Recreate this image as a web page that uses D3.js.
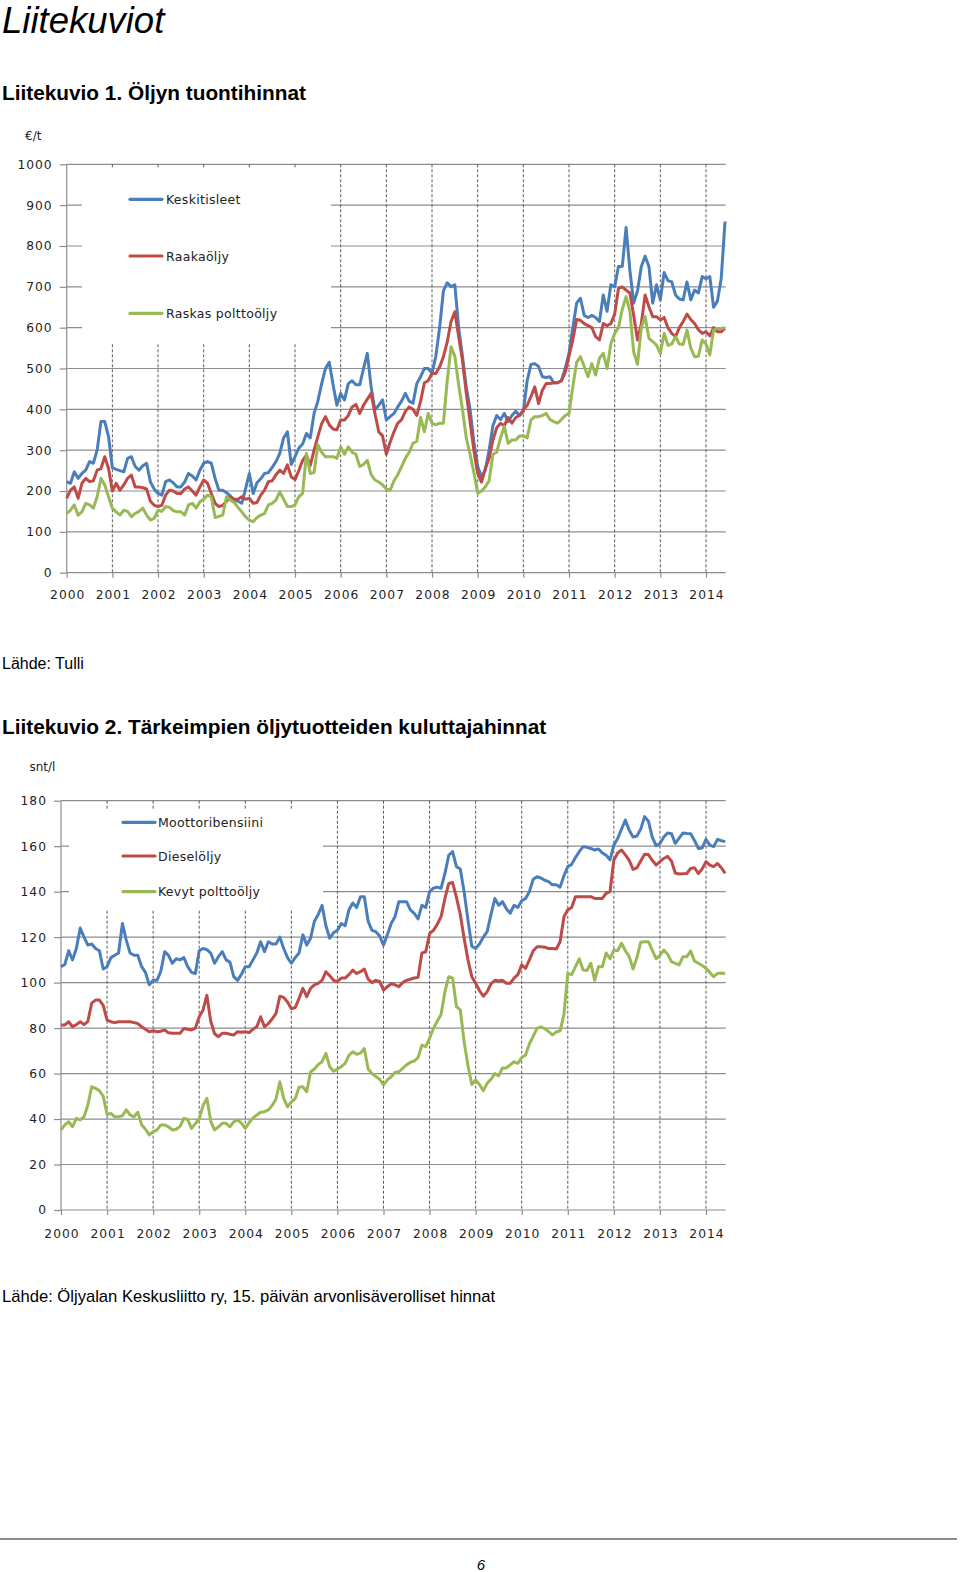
<!DOCTYPE html>
<html><head><meta charset="utf-8">
<script src="https://cdn.jsdelivr.net/npm/d3@7"></script>
<style>
html,body{margin:0;padding:0;background:#fff;}
svg{display:block;}
</style></head>
<body>
<svg id="page" width="960" height="1572"></svg>
<script>
// ---------- DATA ----------
const years = [2000,2001,2002,2003,2004,2005,2006,2007,2008,2009,2010,2011,2012,2013,2014];
const startYear = 2000;

// Chart 1: Öljyn tuontihinnat, €/t, monthly Jan 2000 - Jun 2014
const c1Ticks = [0,100,200,300,400,500,600,700,800,900,1000];
const c1Names = ["Keskitisleet","Raakaöljy","Raskas polttoöljy"];
const keskitisleet = [
223,219,247,231,243,251,272,268,300,370,370,333,
257,253,250,247,280,284,260,251,262,268,222,205,
194,190,223,227,220,210,210,222,243,237,227,251,
268,272,268,231,202,202,196,188,178,175,170,205,
243,194,220,230,243,245,258,272,292,330,345,265,
284,305,315,341,330,390,420,463,500,515,460,410,
439,423,463,470,460,460,500,537,455,398,410,423,
374,382,390,406,420,439,420,415,463,480,500,500,
488,530,600,690,710,700,705,600,530,455,400,320,
260,235,251,300,360,385,375,390,370,385,395,385,
395,470,510,512,505,480,478,480,465,465,470,500,
537,600,660,672,630,625,630,625,615,680,640,705,
700,750,750,845,740,660,690,750,775,750,660,705,
668,735,715,712,680,670,668,712,668,692,685,725,
720,725,650,665,720,860];
const raakaoljy = [
182,202,210,182,219,231,223,225,251,255,284,255,
200,219,202,215,231,239,210,210,208,205,175,165,
162,165,190,202,200,194,194,205,210,200,190,210,
227,219,194,170,162,165,175,186,180,180,186,180,
182,170,172,190,202,223,225,240,251,243,264,235,
228,250,275,288,262,300,333,365,382,362,352,350,
374,374,385,406,412,390,410,425,439,390,345,335,
290,320,345,366,375,395,406,400,385,420,465,470,
488,488,504,529,565,615,639,578,520,440,370,300,
243,222,255,280,325,355,366,360,380,366,380,385,
398,410,431,455,414,447,463,463,465,465,470,490,
530,570,620,618,610,605,600,578,570,610,605,610,
633,696,700,692,685,630,570,610,680,651,627,627,
619,625,600,586,578,600,615,633,620,610,595,586,
590,580,600,590,590,598];
const raskasPolttooljy = [
145,153,166,141,149,170,166,158,186,231,215,186,
158,149,141,153,150,137,145,150,158,141,129,133,
153,150,162,160,152,149,149,141,166,170,158,174,
180,190,186,135,138,141,186,178,172,160,149,137,
129,125,135,141,145,166,170,178,198,180,162,162,
166,186,194,292,243,245,313,295,284,284,284,280,
308,290,308,295,290,260,265,275,240,227,222,215,
205,202,225,240,260,280,295,317,322,380,345,390,
366,362,366,366,470,553,530,460,400,330,290,245,
195,200,210,225,290,295,330,358,317,325,325,335,
335,330,374,382,382,385,390,375,370,366,375,385,
390,455,515,529,505,480,512,484,525,537,500,560,
586,600,645,676,640,540,510,600,627,574,566,557,
537,586,557,560,578,560,559,594,550,529,530,570,
560,533,594,598,598,600];

// Chart 2: Tärkeimpien öljytuotteiden kuluttajahinnat, snt/l
const c2Ticks = [0,20,40,60,80,100,120,140,160,180];
const c2Names = ["Moottoribensiini","Dieselöljy","Kevyt polttoöljy"];
const moottoribensiini = [
107,108,114,110,115,124,120,116.5,117,115,114,106,
107,111,112,113,126,118.7,113,112,112,107,104.5,99,
101,101,105,113.6,112,108.5,110.5,110,111,107,104.5,104,
114,115,114.5,113,108.5,111.4,113.6,110,109,102.6,101,103.7,
107,107,110,113,118,113.6,118,117,117,120,115,111,
108.5,111,113,121,116.5,119.5,127,130,134,125,119.5,122,
123,126,125,132,135,133,137.8,137.8,127,123,122.4,120.5,
116.5,121,126,129,135.6,135.6,135.6,132,130.5,128,134,133,
140,141.5,142,141.5,148,156,157.6,151,150,140,127.5,116,
115,117,120,122.4,130,137,134,135.6,132.5,130.5,134,133,
136,137,140,145.5,146.6,146,145,144.4,143,143,142,147,
151,152,155,157.6,159.8,159.5,159,158.3,158.8,157,156,154,
160.5,163.4,167.5,171.5,167,164,164.5,167.5,173,171,164,160.2,
161.2,164,165.8,165.5,161.2,163.5,165.8,165.6,165.5,162.5,159,159.2,
163,160.5,159.8,163,162.4,162];
const dieseloljy = [
81.4,81.4,82.8,80.6,81.5,82.8,81.5,83,91,92.3,92.3,90,
83.5,82.8,82.4,82.8,82.8,82.8,82.8,82.4,82,80.6,79.5,78.4,
78.8,78.4,78.6,79.2,77.9,77.7,77.7,77.7,79.8,79.5,79.2,80,
85,88,94.4,83,77.5,76.2,77.7,77.7,77.3,77,78.4,78.2,
78.4,78,79.5,80.6,85,80.6,82,84,86.5,94,93.5,91.5,
88.5,89,93,97.5,93.8,97.5,99,99.7,101,104.8,103,101,
100.5,102,102,103.5,105.5,104,104.8,106,101.5,100,101,100.5,
96.7,98.2,99.5,99,98.2,100,101,101.5,102,102.3,113,113.5,
121.5,123,125.6,129,137,143.6,144,137.5,130,119.5,110,102.6,
99.7,96.5,94,96,99.5,101,100.7,101,99.7,99.7,102,103.5,
107.8,106.3,110,114,115.8,115.8,115.6,115,115,114.8,118,129,
132,133,137.8,137.8,137.8,137.8,137.8,137,137,137,139.3,140,
153.9,157,158.3,156.2,153.8,149.8,150.5,153.5,156.5,156.3,153.8,151.7,
153.2,154.6,155.5,153.5,148.2,147.8,147.9,148,150.2,150.5,148,150,
153.2,151.7,151,152.4,150.5,148];
const kevytPolttooljy = [
35.2,37.4,38.8,36.6,40.3,39.6,41,46.2,54.2,53.5,52.5,50,
42,42.5,41,41,41.5,44,41.8,41,43,37.5,35.5,33,
34.4,35.2,37.4,37.4,36.6,35.2,35.5,36.8,40.3,39.8,35.9,38,
40,46,49.1,39,35.2,36.6,38.1,38.1,36.6,38.8,39.6,38.2,
35.9,38.5,40.5,41.8,43,43.2,44,46,48.8,56.4,49.1,45.4,
47.5,49,54,54.2,52,60.7,62,64,65.2,68.9,63,61,
62,63,64.5,68,69.6,68.5,69,71,62,60,58.7,57.5,
55,57.2,58.6,60.5,60.8,62.3,63.8,65,65.5,67,72.5,71.8,
75.5,79.8,83,86,96,102.6,102,89.4,88,74,63.5,55.2,
57.2,55.2,52.5,55.7,57.5,60,59,62.5,62.5,63.8,65.2,64.5,
67,68.2,73,76.5,79.9,80.5,79.8,78.5,77,78.3,78.8,86,
104,103.5,107,110.5,105.5,105.3,108.5,101,107,107,113,110.5,
114.3,114,117.3,114,111.5,106,111,117.8,118,118,114.3,110.5,
112,114.3,112.5,109.2,108.5,107.8,111.4,111.4,113.9,109.5,108.5,107.5,
106.3,104.5,102.6,104,104.2,104];

const colors = ["#4A7EBB","#BE4B48","#98B954"];

// ---------- DRAW ----------
const svg = d3.select("#page");
const serif = "'Liberation Sans', Arial, sans-serif";
const chartFont = "'DejaVu Sans', sans-serif";

svg.append("text").attr("x",2).attr("y",33)
  .style("font-family",serif).style("font-style","italic").style("font-size","36.5px").text("Liitekuviot");
svg.append("text").attr("x",2).attr("y",100)
  .style("font-family",serif).style("font-weight","bold").style("font-size","20.8px").text("Liitekuvio 1. Öljyn tuontihinnat");
svg.append("text").attr("x",2).attr("y",669)
  .style("font-family",serif).style("font-size","16px").text("Lähde: Tulli");
svg.append("text").attr("x",2).attr("y",734)
  .style("font-family",serif).style("font-weight","bold").style("font-size","20.8px").text("Liitekuvio 2. Tärkeimpien öljytuotteiden kuluttajahinnat");
svg.append("text").attr("x",2).attr("y",1301.5)
  .style("font-family",serif).style("font-size","16.6px").text("Lähde: Öljyalan Keskusliitto ry, 15. päivän arvonlisäverolliset hinnat");
svg.append("line").attr("x1",0).attr("x2",957).attr("y1",1539).attr("y2",1539)
  .attr("stroke","#8c8c8c").attr("stroke-width",2);
svg.append("text").attr("x",481).attr("y",1570).attr("text-anchor","middle")
  .style("font-family","'Liberation Sans Narrow', 'Liberation Sans', sans-serif").style("font-style","italic").style("font-size","15px").text("6");

function drawChart(cfg){
  const g = svg.append("g");
  const x = d3.scaleLinear().domain([2000,2014]).range([cfg.x0, 706]);
  const xEnd = cfg.xEnd;
  const y = d3.scaleLinear().domain([0, cfg.ticks[cfg.ticks.length-1]]).range([cfg.yBottom, cfg.yTop]);

  // horizontal gridlines
  g.selectAll(".hg").data(cfg.ticks.slice(1)).enter().append("line")
    .attr("x1",x(2000)).attr("x2",xEnd).attr("y1",d=>y(d)).attr("y2",d=>y(d))
    .attr("stroke","#8d8d8d").attr("stroke-width",1.2);
  // vertical dashed gridlines
  g.selectAll(".vg").data(years.slice(1)).enter().append("line")
    .attr("x1",d=>x(d)).attr("x2",d=>x(d)).attr("y1",y.range()[1]).attr("y2",y(0))
    .attr("stroke","#5a5a5a").attr("stroke-width",1).attr("stroke-dasharray","3,2");
  // legend box (covers grid)
  g.append("rect").attr("x",cfg.leg.x0).attr("y",cfg.leg.y0)
    .attr("width",cfg.leg.x1-cfg.leg.x0).attr("height",cfg.leg.y1-cfg.leg.y0).attr("fill","#fff");

  // axes
  const ya = d3.axisLeft(y).tickValues(cfg.ticks).tickSize(7).tickPadding(cfg.yPad).tickFormat(d3.format("d"));
  const yg = g.append("g").attr("transform",`translate(${x(2000)},0)`).call(ya);
  const xa = d3.axisBottom(x).tickValues(years).tickSize(5).tickPadding(cfg.xPad).tickFormat(d3.format("d"));
  const xg = g.append("g").attr("transform",`translate(0,${y(0)})`).call(xa);
  [yg,xg].forEach(a=>{
    a.select(".domain").attr("stroke","#8d8d8d").attr("stroke-width",1.2);
    a.selectAll(".tick line").attr("stroke","#8d8d8d").attr("stroke-width",1.2);
    a.selectAll("text").style("font-family",chartFont).style("font-size","12.3px")
      .style("letter-spacing","1px").attr("fill","#222");
  });
  xg.select(".domain").attr("d",`M${x(2000)},0H${xEnd}`);
  yg.select(".domain").attr("d",`M0,${y(0)}V${y.range()[1]}`);
  xg.selectAll("text").attr("dy","0.71em").attr("dx","0.5px");
  yg.selectAll("text").attr("dx","1px");

  // unit label
  g.append("text").attr("x",cfg.unitX).attr("y",cfg.unitY)
    .style("font-family",chartFont).style("font-size","12px").attr("fill","#222").text(cfg.unit);

  // series
  const line = d3.line().x((d,i)=>x(startYear + i/12)).y(d=>y(d));
  cfg.series.forEach((s,k)=>{
    g.append("path").datum(s).attr("d",line).attr("fill","none")
      .attr("stroke",colors[k]).attr("stroke-width",3).attr("stroke-linejoin","round");
  });

  // legend
  cfg.names.forEach((n,k)=>{
    const ly = cfg.leg.ys[k];
    g.append("line").attr("x1",cfg.leg.lx0).attr("x2",cfg.leg.lx1).attr("y1",ly).attr("y2",ly)
      .attr("stroke",colors[k]).attr("stroke-width",3.2).attr("stroke-linecap","round");
    g.append("text").attr("x",cfg.leg.tx).attr("y",ly).attr("dy","0.36em")
      .style("font-family",chartFont).style("font-size","12.5px").style("letter-spacing","0.3px")
      .attr("fill","#222").text(n);
  });
}

drawChart({
  x0:66.7, xEnd:725.7, yBottom:572.7, yTop:164.3, ticks:c1Ticks, yPad:8, xPad:13,
  series:[keskitisleet, raakaoljy, raskasPolttooljy], names:c1Names,
  unit:"€/t", unitX:25, unitY:139.5,
  leg:{x0:82, x1:331, y0:168, y1:344, lx0:130, lx1:162, tx:166, ys:[199.3,256,313.3]}
});
drawChart({
  x0:61, xEnd:725.7, yBottom:1210, yTop:800.7, ticks:c2Ticks, yPad:8, xPad:14,
  series:[moottoribensiini, dieseloljy, kevytPolttooljy], names:c2Names,
  unit:"snt/l", unitX:29.5, unitY:771,
  leg:{x0:69, x1:323, y0:810, y1:910, lx0:123, lx1:155, tx:158, ys:[822.3,856,891.7]}
});
</script>
</body></html>
